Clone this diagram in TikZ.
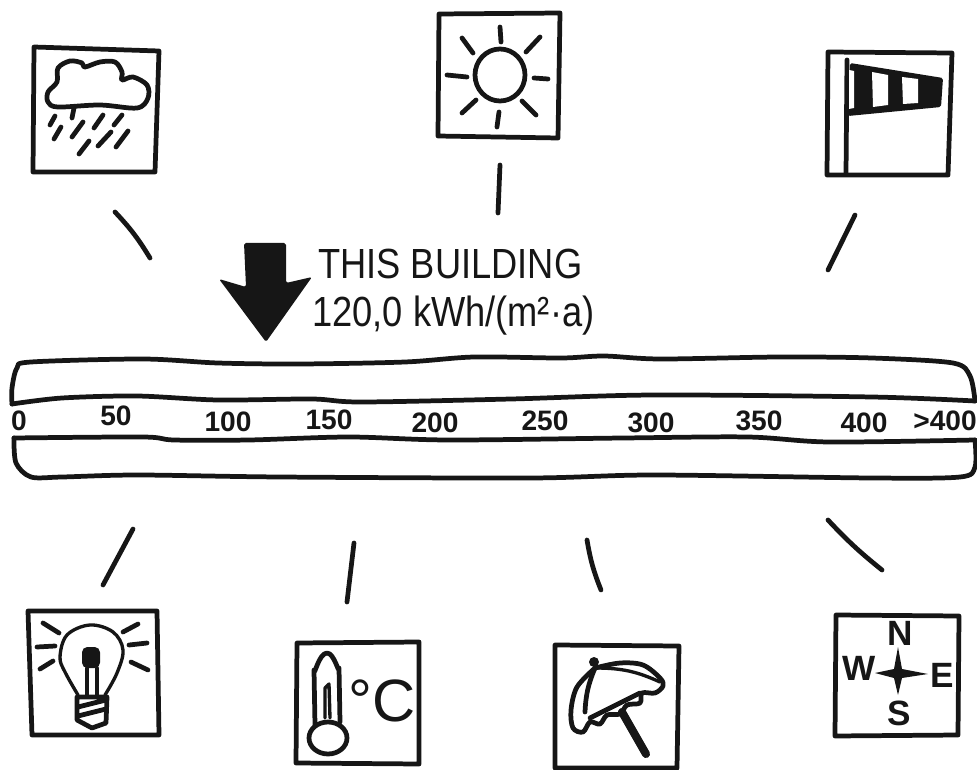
\documentclass[tikz,border=0pt]{standalone}
\usepackage{fontspec}
\usepackage{xcolor}
\usepackage{tikz}
\setmainfont{Liberation Sans}
\definecolor{inkBlack}{HTML}{161616}
\tikzset{
  inkline/.style={draw=inkBlack,line width=2.7pt,line join=round,line cap=round},
  inkthin/.style={draw=inkBlack,line width=1.9pt,line join=round,line cap=round},
  scalelabel/.style={text=inkBlack,inner sep=0pt,font=\fontsize{16}{16}\selectfont\bfseries},
  compasslabel/.style={text=inkBlack,inner sep=0pt,font=\fontsize{20}{20}\selectfont\bfseries},
  notelabel/.style={text=inkBlack,inner sep=0pt,anchor=west,xscale=0.86,transform shape,font=\fontsize{24}{24}\selectfont},
}
\begin{document}
\begin{tikzpicture}[x=0.02cm,y=-0.02cm]
\useasboundingbox (0,0) rectangle (977,770);
% scale bar
\draw[inkline] plot[smooth,tension=0.5] coordinates {(12,404) (12,388) (17,368) (31,362) (143,359) (218,363) (299,364) (405,362) (474,357) (561,358) (604,356) (660,359) (779,357) (872,358) (953,363) (970,376) (975,401)};
\draw[inkline] plot[smooth,tension=0.5] coordinates {(975,401) (872,397) (654,395) (511,399) (361,402) (312,399) (218,400) (137,396) (62,398) (12,404)};
\draw[inkline] plot[smooth,tension=0.5] coordinates {(14,438) (143,437) (174,440) (249,440) (349,437) (449,440) (623,438) (748,437) (829,442) (975,440)};
\draw[inkline] plot[smooth,tension=0.5] coordinates {(975,440) (975,467) (960,477) (872,478) (654,475) (530,478) (280,477) (137,475) (62,477) (31,477) (16,463) (14,438)};
\node[scalelabel] (tickZero) at (19,421) {0};
\node[scalelabel] (tickFifty) at (116,416) {50};
\node[scalelabel] (tickHundred) at (228,422) {100};
\node[scalelabel] (tickOneFifty) at (329,420) {150};
\node[scalelabel] (tickTwoHundred) at (435,423) {200};
\node[scalelabel] (tickTwoFifty) at (545,421) {250};
\node[scalelabel] (tickThreeHundred) at (651,423) {300};
\node[scalelabel] (tickThreeFifty) at (759,421) {350};
\node[scalelabel] (tickFourHundred) at (864,423) {400};
\node[scalelabel] (tickOver) at (945,421) {>400};
% marker and note
\fill[inkBlack,rounded corners=1pt] (244,243) -- (286,243) -- (286,283) -- (312,277) -- (266,342) -- (219,279) -- (246,287) -- cycle;
\node[notelabel] (noteBuilding) at (318,264) {THIS BUILDING};
\node[notelabel] (noteValue) at (312,316) {120,0 kWh/(m²·a)};
% rain
\draw[inkline] (34,47) -- (159,51) -- (155,172) -- (33,172) -- cycle;
\draw[inkline] plot[smooth cycle,tension=0.55] coordinates {(58,107) (48,102) (48,92) (57,82) (58,68) (70,61) (82,63) (85,67) (100,62) (115,62) (122,72) (122,80) (133,77) (147,85) (148,98) (137,108) (100,105)};
\draw[inkline] (50,125) -- (55,116) (54,139) -- (61,127) (72,137) -- (83,122) (72,118) -- (74,108) (94,128) -- (103,115) (114,125) -- (122,115) (79,154) -- (89,141) (98,146) -- (111,132) (116,147) -- (128,131);
% sun
\draw[inkline] (439,14) -- (560,13) -- (558,138) -- (438,136) -- cycle;
\draw[inkline] (500,75) ellipse[x radius=25,y radius=26];
\draw[inkline] (500,27) -- (501,42) (540,37) -- (526,52) (534,78) -- (548,79) (522,101) -- (536,115) (499,112) -- (497,127) (476,100) -- (462,113) (447,75) -- (467,77) (462,38) -- (473,53);
% windsock
\draw[inkline] (828,52) -- (952,53) -- (948,175) -- (827,175) -- cycle;
\draw[inkline] (847,60) -- (846,174);
\fill[inkBlack,rounded corners=1pt] (850,63) -- (943,78) -- (941,107) -- (848,116) -- cycle;
\fill[white] (849,70) -- (854,71) -- (854,108) -- (849,109) -- cycle;
\fill[white] (872,72) -- (888,75) -- (888,105) -- (873,107) -- cycle;
\fill[white] (902,77) -- (918,79) -- (918,103) -- (903,104) -- cycle;
% bulb
\draw[inkline] (28,611) -- (157,611) -- (159,735) -- (32,735) -- cycle;
\draw[inkthin] plot[smooth,tension=0.6] coordinates {(78,695) (65,672) (60,657) (67,635) (90,625) (113,632) (123,650) (117,673) (105,695)};
\draw[inkline] (77,697) -- (107,697) -- (106,723) -- (92,728) -- (77,720) -- cycle (78,707) -- (106,700) (78,716) -- (106,709);
\fill[inkBlack,rounded corners=3pt] (82,647) rectangle (100,668);
\draw[inkthin] (87,668) -- (87,695) (97,668) -- (97,695);
\draw[inkline] (43,623) -- (59,633) (37,647) -- (55,646) (40,669) -- (53,661) (123,632) -- (138,624) (129,645) -- (147,643) (131,662) -- (148,670);
% thermometer
\draw[inkline] (297,643) -- (419,642) -- (419,764) -- (296,763) -- cycle;
\draw[inkline] (315,725) -- (314,670) to[out=-90,in=180] (327,653) to[out=0,in=-90] (339,668) -- (340,722);
\draw[inkline] (328,738) ellipse[x radius=19,y radius=16];
\draw[inkthin] (325,718) -- (325,688) -- (329,684) -- (330,718);
\node[text=inkBlack,inner sep=0pt,font=\fontsize{34}{34}\selectfont] (tempUnit) at (382,701) {°C};
% umbrella
\draw[inkline] (555,645) -- (679,646) -- (677,768) -- (555,768) -- cycle;
\fill[inkBlack] (594,662) circle[radius=5];
\draw[inkline] plot[smooth,tension=0.55] coordinates {(595,668) (577,687) (571,710) (573,728) (583,732) (590,722) (600,724) (607,715) (620,714) (627,705) (640,703) (642,693) (655,693) (663,686) (660,678) (643,665) (620,663) (595,668)};
\draw[inkline] (595,668) to[bend right=10] (585,712) (590,718) -- (640,693);
\draw[inkthin] (597,668) to[bend left=12] (660,682);
\draw[inkBlack,line width=4.6pt,line cap=round] (622,712) -- (646,754);
% compass
\draw[inkline] (836,615) -- (959,616) -- (958,735) -- (835,736) -- cycle;
\fill[inkBlack] (898,647) -- (902,669) -- (928,674) -- (902,678) -- (898,695) -- (894,678) -- (875,673) -- (894,669) -- cycle;
\node[compasslabel] (compassN) at (900,633) {N};
\node[compasslabel] (compassS) at (899,713) {S};
\node[compasslabel] (compassW) at (859,668) {W};
\node[compasslabel] (compassE) at (942,675) {E};
% strokes between icons and bar
\coordinate (rainTop) at (115,212);
\coordinate (rainEnd) at (150,258);
\coordinate (sunTop) at (500,165);
\coordinate (sunEnd) at (498,213);
\coordinate (sockTop) at (855,215);
\coordinate (sockEnd) at (828,270);
\coordinate (bulbTop) at (133,529);
\coordinate (bulbEnd) at (103,585);
\coordinate (tempTop) at (354,543);
\coordinate (tempEnd) at (347,602);
\coordinate (shadeTop) at (587,540);
\coordinate (shadeEnd) at (601,590);
\coordinate (compTop) at (828,520);
\coordinate (compEnd) at (882,570);
\draw[inkline] (rainTop) to[bend left=6] (rainEnd);
\draw[inkline] (sunTop) -- (sunEnd);
\draw[inkline] (sockTop) -- (sockEnd);
\draw[inkline] (bulbTop) -- (bulbEnd);
\draw[inkline] (tempTop) -- (tempEnd);
\draw[inkline] (shadeTop) to[bend right=6] (shadeEnd);
\draw[inkline] (compTop) to[bend right=4] (compEnd);
\end{tikzpicture}
\end{document}
